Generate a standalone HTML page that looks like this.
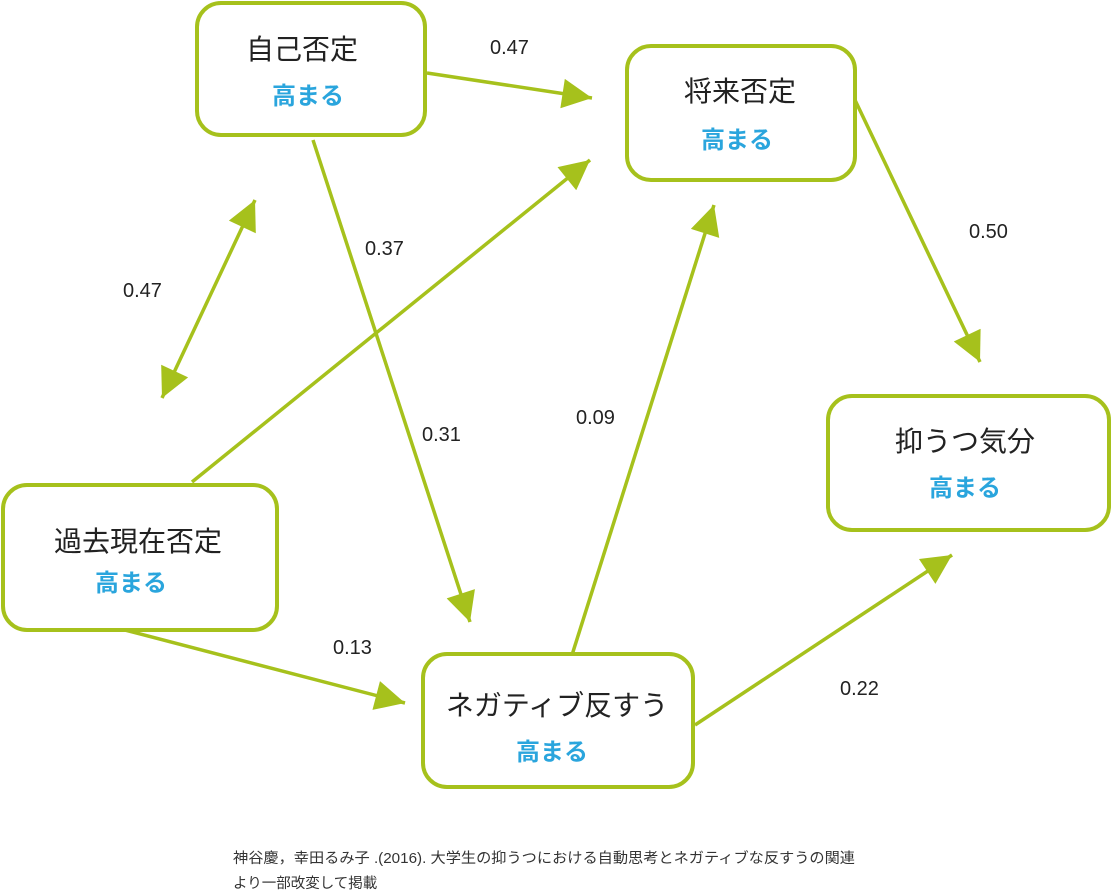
<!DOCTYPE html>
<html><head><meta charset="utf-8"><style>
body{margin:0;background:#fff;width:1112px;height:891px;overflow:hidden}
svg{display:block}
.t{font-family:"Liberation Sans","Noto Sans CJK JP",sans-serif;font-size:28px;fill:#222;text-anchor:middle}
.b{font-family:"Liberation Sans","Noto Sans CJK JP",sans-serif;font-size:24px;font-weight:bold;fill:#2aa5dd;text-anchor:middle}
.n{font-family:"Liberation Sans","DejaVu Sans",sans-serif;font-size:20px;fill:#222}
.c{font-family:"Liberation Sans","Noto Sans CJK JP",sans-serif;font-size:14.5px;fill:#333}
</style></head><body>
<svg width="1112" height="891" viewBox="0 0 1112 891">
<defs>
<marker id="a" viewBox="0 0 10 10" refX="10" refY="5" markerWidth="9" markerHeight="8.5" markerUnits="strokeWidth" orient="auto-start-reverse">
<path d="M0,0 L10,5 L0,10 z" fill="#a6c11c"/></marker>
</defs>
<g stroke="#a6c11c" stroke-width="3.5" fill="none">
<line x1="427" y1="73" x2="592" y2="98" marker-end="url(#a)"/>
<line x1="313" y1="140" x2="470" y2="622" marker-end="url(#a)"/>
<line x1="255" y1="200" x2="162" y2="398" marker-end="url(#a)" marker-start="url(#a)"/>
<line x1="192" y1="482" x2="590" y2="160" marker-end="url(#a)"/>
<line x1="125" y1="630" x2="405" y2="703" marker-end="url(#a)"/>
<line x1="572" y1="655" x2="714" y2="205" marker-end="url(#a)"/>
<line x1="695" y1="725" x2="952" y2="555" marker-end="url(#a)"/>
<line x1="855" y1="100" x2="980" y2="362" marker-end="url(#a)"/>
</g>
<g stroke="#a6c11c" stroke-width="4" fill="#fff">
<rect x="197" y="3" width="228" height="132" rx="24"/>
<rect x="627" y="46" width="228" height="134" rx="24"/>
<rect x="828" y="396" width="281" height="134" rx="24"/>
<rect x="3" y="485" width="274" height="145" rx="24"/>
<rect x="423" y="654" width="270" height="133" rx="24"/>
</g>
<text class="t" x="302" y="59">自己否定</text><text class="b" x="308" y="104">高まる</text>
<text class="t" x="740" y="101">将来否定</text><text class="b" x="737" y="148">高まる</text>
<text class="t" x="965" y="451">抑うつ気分</text><text class="b" x="965" y="496">高まる</text>
<text class="t" x="138" y="551">過去現在否定</text><text class="b" x="131" y="591">高まる</text>
<text class="t" x="557" y="715">ネガティブ反すう</text><text class="b" x="552" y="760">高まる</text>
<text class="n" x="490" y="54">0.47</text>
<text class="n" x="365" y="255">0.37</text>
<text class="n" x="123" y="297">0.47</text>
<text class="n" x="422" y="441">0.31</text>
<text class="n" x="576" y="424">0.09</text>
<text class="n" x="969" y="238">0.50</text>
<text class="n" x="333" y="654">0.13</text>
<text class="n" x="840" y="695">0.22</text>
<text class="c" x="233" y="863" textLength="622" lengthAdjust="spacingAndGlyphs">神谷慶，幸田るみ子 .(2016). 大学生の抑うつにおける自動思考とネガティブな反すうの関連</text>
<text class="c" x="233" y="888">より一部改変して掲載</text>
</svg>
</body></html>
